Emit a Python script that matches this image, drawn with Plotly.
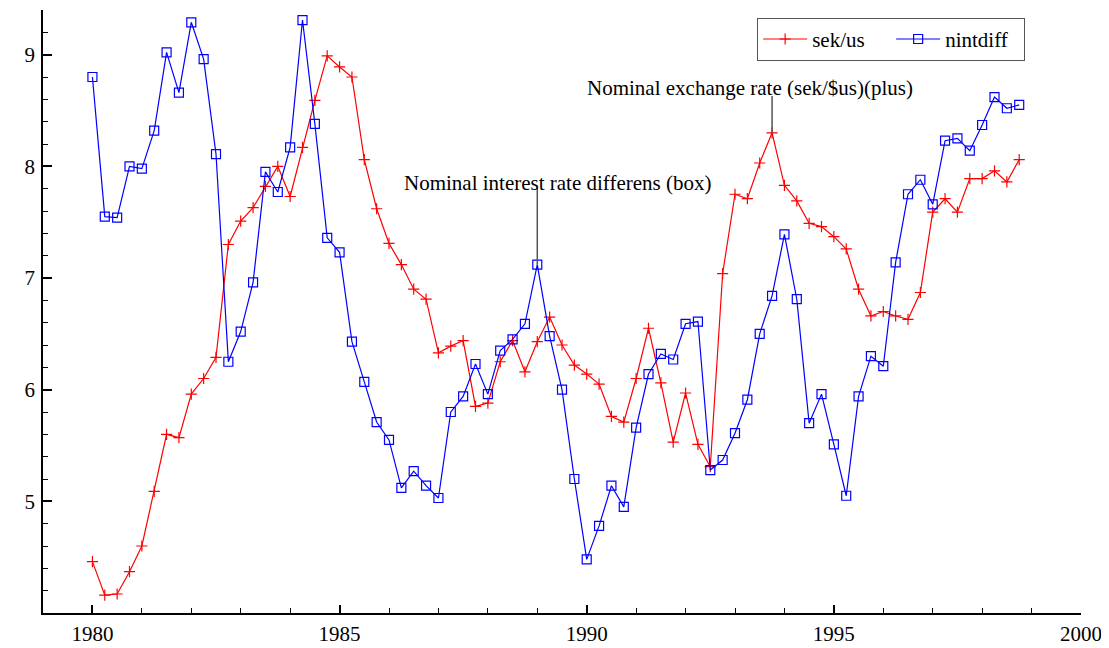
import plotly.graph_objects as go

# quarterly observations, 1980Q1 - 1998Q4
start_year = 1980
sek_us = [4.46, 4.16, 4.17, 4.37,
          4.60, 5.09, 5.60, 5.57,
          5.96, 6.10, 6.29, 7.30,
          7.51, 7.63, 7.82, 8.00,
          7.73, 8.17, 8.59, 8.99,
          8.89, 8.80, 8.06, 7.62,
          7.31, 7.12, 6.90, 6.81,
          6.33, 6.39, 6.44, 5.85,
          5.88, 6.25, 6.44, 6.16,
          6.43, 6.65, 6.40, 6.22,
          6.14, 6.05, 5.76, 5.71,
          6.10, 6.55, 6.06, 5.53,
          5.97, 5.51, 5.31, 7.04,
          7.75, 7.71, 8.03, 8.30,
          7.83, 7.69, 7.49, 7.46,
          7.37, 7.26, 6.90, 6.66,
          6.70, 6.66, 6.63, 6.87,
          7.59, 7.71, 7.59, 7.89,
          7.89, 7.96, 7.86, 8.06]
nintdiff = [8.80, 7.55, 7.54, 8.00,
            7.98, 8.32, 9.02, 8.66,
            9.29, 8.96, 8.11, 6.25,
            6.52, 6.96, 7.95, 7.77,
            8.17, 9.31, 8.38, 7.36,
            7.23, 6.43, 6.07, 5.71,
            5.55, 5.12, 5.27, 5.14,
            5.03, 5.80, 5.94, 6.23,
            5.96, 6.35, 6.45, 6.59,
            7.12, 6.48, 6.00, 5.20,
            4.48, 4.78, 5.14, 4.95,
            5.66, 6.14, 6.32, 6.27,
            6.59, 6.61, 5.28, 5.37,
            5.61, 5.91, 6.50, 6.84,
            7.39, 6.81, 5.70, 5.96,
            5.51, 5.05, 5.94, 6.30,
            6.21, 7.14, 7.75, 7.88,
            7.66, 8.23, 8.25, 8.14,
            8.37, 8.62, 8.52, 8.55]
years = [start_year + 0.25 * i for i in range(len(sek_us))]

y_ticks = [5, 6, 7, 8, 9]
x_ticks = [1980, 1985, 1990, 1995, 2000]

# labelled points
i_box = 36   # 1989Q1, nintdiff
i_plus = 55  # 1993Q4, sek/us

FONT = "Liberation Serif"

fig = go.Figure()
fig.add_trace(go.Scatter(x=years, y=sek_us, name="sek/us", mode="lines+markers",
                         line=dict(color="#ff0000", width=1.2),
                         marker=dict(symbol="cross-thin", size=8,
                                     line=dict(color="#ff0000", width=1.2))))
fig.add_trace(go.Scatter(x=years, y=nintdiff, name="nintdiff", mode="lines+markers",
                         line=dict(color="#0000ff", width=1.2),
                         marker=dict(symbol="square-open", size=9, color="#0000ff",
                                     line=dict(width=1.2))))

# leader lines + labels
fig.add_shape(type="line", x0=years[i_box], x1=years[i_box], y0=nintdiff[i_box], y1=7.82,
              line=dict(color="#555555", width=1.5))
fig.add_shape(type="line", x0=years[i_plus], x1=years[i_plus], y0=sek_us[i_plus], y1=8.63,
              line=dict(color="#555555", width=1.5))
fig.add_annotation(x=1989.41, y=7.85, text="Nominal interest rate differens (box)",
                   showarrow=False, font=dict(size=21, color="black", family=FONT))
fig.add_annotation(x=1993.31, y=8.70, text="Nominal exchange rate (sek/$us)(plus)",
                   showarrow=False, font=dict(size=21, color="black", family=FONT))

# page body has an 8px margin, so margins are offset by that
fig.update_layout(
    width=1109, height=648,
    margin=dict(l=35, r=36, t=2, b=43, autoexpand=False),
    paper_bgcolor="white", plot_bgcolor="white",
    font=dict(family=FONT, size=21, color="black"),
    showlegend=True,
    legend=dict(orientation="h", x=0.688, y=0.987, xanchor="left", yanchor="top",
                bordercolor="#555555", borderwidth=1, bgcolor="white",
                font=dict(size=21, family=FONT, color="black"),
                itemwidth=44, entrywidth=74, tracegroupgap=0),
    xaxis=dict(range=[1979, 2000], tickvals=x_ticks, showgrid=False, zeroline=False,
               automargin=False, tickfont=dict(family=FONT, size=21),
               showline=True, linecolor="black", linewidth=1.5,
               ticks="inside", ticklen=8, tickwidth=1.5, tickcolor="black",
               ticklabelstandoff=1,
               minor=dict(dtick=1, tick0=1979, ticks="inside", ticklen=5,
                          tickwidth=1.2, tickcolor="black", showgrid=False)),
    yaxis=dict(range=[4.0, 9.4], tickvals=y_ticks, showgrid=False, zeroline=False,
               automargin=False, tickfont=dict(family=FONT, size=21),
               showline=True, linecolor="black", linewidth=1.5,
               ticks="inside", ticklen=9, tickwidth=1.5, tickcolor="black",
               ticklabelstandoff=2,
               minor=dict(dtick=0.2, tick0=4.0, ticks="inside", ticklen=5,
                          tickwidth=1.2, tickcolor="black", showgrid=False)),
)

fig.write_html("out.html")
